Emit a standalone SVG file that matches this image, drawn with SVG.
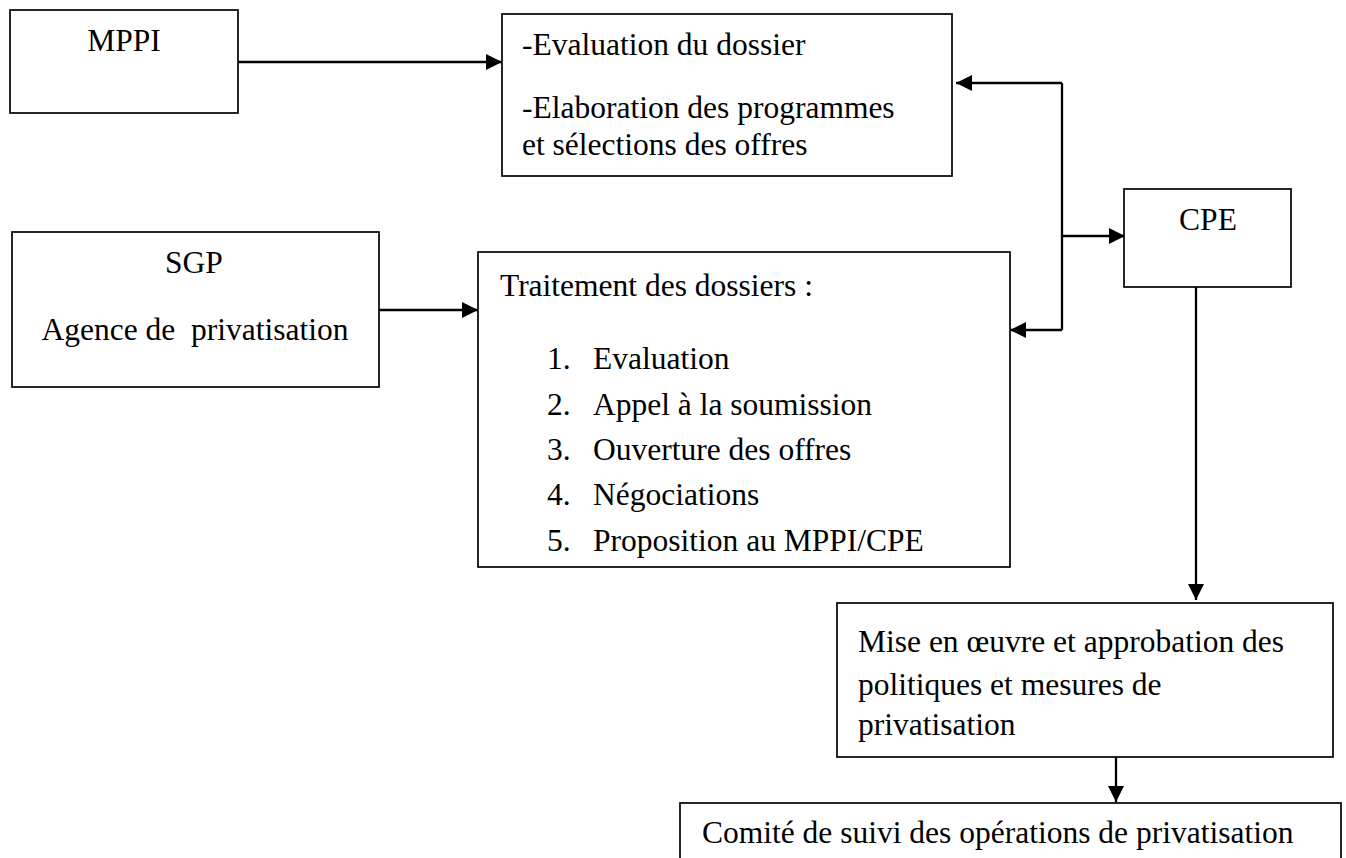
<svg xmlns="http://www.w3.org/2000/svg" width="1346" height="858" viewBox="0 0 1346 858">
<style>
.box{fill:#fff;stroke:#000;stroke-width:1.7}
.t{font-family:"Liberation Serif","Times New Roman",serif;font-size:31.5px;fill:#000}
.c{text-anchor:middle}
.ln{fill:none;stroke:#000;stroke-width:2.3}
</style>
<defs>
<marker id="ah" markerUnits="userSpaceOnUse" markerWidth="17" markerHeight="17" refX="16" refY="8" orient="auto">
<path d="M0,0 L16,8 L0,16 Z" fill="#000"/>
</marker>
</defs>
<g id="connectors">
<line class="ln" x1="238" y1="62" x2="502" y2="62" marker-end="url(#ah)"/>
<line class="ln" x1="379" y1="310" x2="478" y2="310" marker-end="url(#ah)"/>
<line class="ln" x1="1062" y1="83" x2="1062" y2="330"/>
<line class="ln" x1="1062" y1="83" x2="956" y2="83" marker-end="url(#ah)"/>
<line class="ln" x1="1062" y1="330" x2="1010" y2="330" marker-end="url(#ah)"/>
<line class="ln" x1="1061" y1="236" x2="1125" y2="236" marker-end="url(#ah)"/>
<line class="ln" x1="1196" y1="287" x2="1196" y2="600" marker-end="url(#ah)"/>
<line class="ln" x1="1116" y1="755" x2="1116" y2="802" marker-end="url(#ah)"/>
</g>
<g id="mppi">
<rect class="box" x="10" y="10" width="228" height="103"/>
<text class="t c" x="124" y="51">MPPI</text>
</g>
<g id="evaluation">
<rect class="box" x="502" y="14" width="450" height="162"/>
<text class="t" x="522" y="55">-Evaluation du dossier</text>
<text class="t" x="522" y="118">-Elaboration des programmes</text>
<text class="t" x="522" y="155">et sélections des offres</text>
</g>
<g id="sgp">
<rect class="box" x="12" y="232" width="367" height="155"/>
<text class="t c" x="194" y="273">SGP</text>
<text class="t c" x="195" y="340" xml:space="preserve">Agence de  privatisation</text>
</g>
<g id="traitement">
<rect class="box" x="478" y="252" width="532" height="315"/>
<text class="t" x="500" y="296">Traitement des dossiers :</text>
<text class="t" x="547" y="369">1.</text><text class="t" x="593" y="369">Evaluation</text>
<text class="t" x="547" y="415">2.</text><text class="t" x="593" y="415">Appel à la soumission</text>
<text class="t" x="547" y="460">3.</text><text class="t" x="593" y="460">Ouverture des offres</text>
<text class="t" x="547" y="505">4.</text><text class="t" x="593" y="505">Négociations</text>
<text class="t" x="547" y="551">5.</text><text class="t" x="593" y="551">Proposition au MPPI/CPE</text>
</g>
<g id="cpe">
<rect class="box" x="1124" y="189" width="167" height="98"/>
<text class="t c" x="1208" y="230">CPE</text>
</g>
<g id="mise">
<rect class="box" x="837" y="603" width="496" height="154"/>
<text class="t" x="858" y="652">Mise en œuvre et approbation des</text>
<text class="t" x="858" y="695">politiques et mesures de</text>
<text class="t" x="858" y="735">privatisation</text>
</g>
<g id="comite">
<rect class="box" x="680" y="803" width="661" height="80"/>
<text class="t" x="702" y="843">Comité de suivi des opérations de privatisation</text>
</g>
</svg>
